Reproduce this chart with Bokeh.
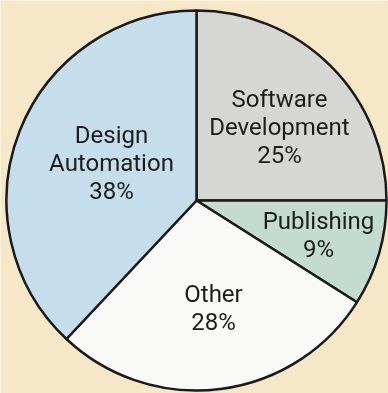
from bokeh.plotting import figure
from bokeh.models import Range1d, ColumnDataSource
from bokeh.core.properties import value
from bokeh.embed import file_html
from bokeh.resources import INLINE
import math

# Data (clockwise from 12 o'clock)
categories = ["Software\nDevelopment", "Publishing", "Other", "Design\nAutomation"]
shares = [25, 9, 28, 38]
colors = ["#d6d6d3", "#c4dbcf", "#f9f9f7", "#c6ddeb"]

# label anchor positions (layout, in pixels relative to pie centre)
label_x = [83, 122, 17, -85]
label_y = [74, -34, -107.5, 38]

R = 190
total = sum(shares)
starts, ends = [], []
cum = 0
for s in shares:
    a0 = math.pi / 2 - 2 * math.pi * (cum + s) / total
    a1 = math.pi / 2 - 2 * math.pi * cum / total
    starts.append(a0)
    ends.append(a1)
    cum += s

labels = [f"{c}\n{s}%" for c, s in zip(categories, shares)]

src = ColumnDataSource(dict(start=starts, end=ends, color=colors))
lsrc = ColumnDataSource(dict(x=label_x, y=label_y, text=labels))

BG = "#f6e7c8"
p = figure(width=388, height=393, output_backend="svg", toolbar_location=None,
           x_range=Range1d(-196, 192), y_range=Range1d(-193, 200),
           min_border=0, background_fill_color=BG, border_fill_color=BG,
           outline_line_color=None, match_aspect=False)
p.styles = {"position": "fixed", "left": "0px", "top": "0px"}
p.axis.visible = False
p.grid.visible = False

p.wedge(x=0, y=0, radius=R, start_angle="start", end_angle="end",
        fill_color="color", line_color="#1a1a1a", line_width=2.5, source=src)

p.text(x="x", y="y", text="text", source=lsrc, text_align="center",
       text_baseline="middle", text_font=value("Roboto"),
       text_font_size="24px", text_line_height=1.0, text_color="#1c1c1c")

open("out.html", "w").write(file_html(p, INLINE))
